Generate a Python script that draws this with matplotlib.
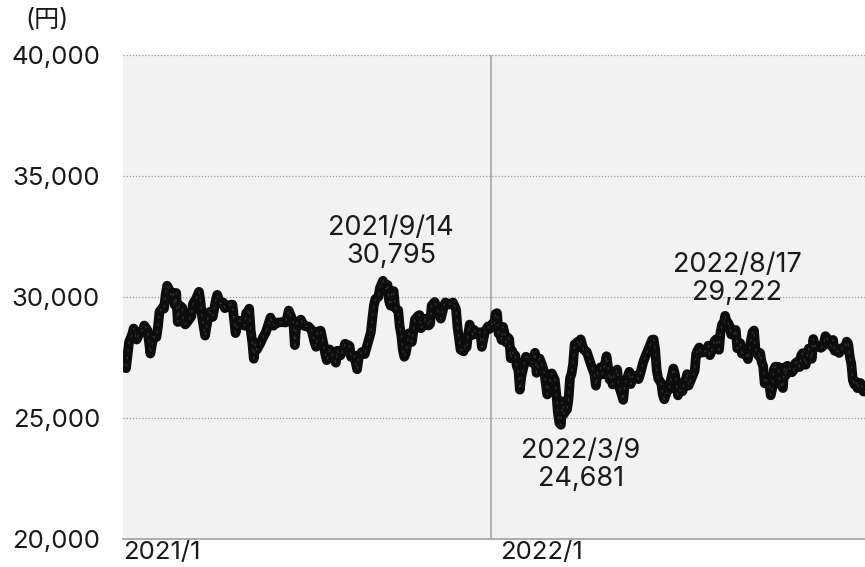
import numpy as np
import matplotlib
matplotlib.use("Agg")
import matplotlib.pyplot as plt
import matplotlib.transforms as mtransforms

plt.rcParams['font.family'] = ['Inter', 'Noto Sans CJK JP', 'DejaVu Sans']

# Tokyo exchange closed days (weekdays) used for trading-day positions
holidays = ["2021-01-01", "2021-01-11", "2021-02-11", "2021-02-23", "2021-04-29",
            "2021-05-03", "2021-05-04", "2021-05-05", "2021-07-22", "2021-07-23",
            "2021-08-09", "2021-09-20", "2021-09-23", "2021-11-03", "2021-11-23",
            "2021-12-31", "2022-01-03", "2022-01-10", "2022-02-11", "2022-02-23",
            "2022-03-21", "2022-04-29", "2022-05-03", "2022-05-04", "2022-05-05",
            "2022-07-18", "2022-08-11", "2022-09-19", "2022-09-23", "2022-10-10",
            "2022-11-03", "2022-11-23"]

dates_2021 = ["01-04","01-06","01-08","01-13","01-14","01-18","01-20","01-22","01-25","01-27",
              "01-28","01-29","02-02","02-04","02-05","02-08","02-10","02-12","02-15","02-16",
              "02-18","02-19","02-22","02-24","02-25","02-26","03-01","03-03","03-04","03-05",
              "03-09","03-11","03-12","03-16","03-18","03-19","03-22","03-24","03-26","03-29",
              "03-31","04-02","04-05","04-07","04-09","04-12","04-14","04-16","04-19","04-20",
              "04-21","04-23","04-27","04-30","05-06","05-07","05-10","05-11","05-12","05-13",
              "05-14","05-17","05-19","05-21","05-25","05-28","06-01","06-03","06-04","06-08",
              "06-11","06-14","06-15","06-18","06-21","06-22","06-25","06-29","06-30","07-02",
              "07-06","07-08","07-09","07-12","07-14","07-16","07-19","07-20","07-21","07-26",
              "07-28","07-30","08-02","08-04","08-06","08-10","08-13","08-16","08-18","08-20",
              "08-23","08-25","08-27","08-31","09-02","09-03","09-06","09-07","09-09","09-10",
              "09-14","09-15","09-16","09-17","09-21","09-22","09-24","09-27","09-28","09-30",
              "10-01","10-04","10-05","10-06","10-07","10-08","10-11","10-13","10-15","10-19",
              "10-20","10-21","10-22","10-26","10-27","10-28","10-29","11-01","11-04","11-05",
              "11-09","11-10","11-12","11-15","11-17","11-19","11-22","11-25","11-26","11-29",
              "11-30","12-02","12-03","12-06","12-07","12-08","12-10","12-13","12-15","12-17",
              "12-20","12-22","12-24","12-27","12-29","12-30"]
close_2021 = [27258,27056,28139,28456,28698,28242,28523,28631,28822,28635,
              28197,27663,28362,28341,28779,29388,29562,29520,30084,30467,
              30236,30018,30156,29672,30168,28966,29664,29559,28930,28864,
              29027,29211,29717,29921,30216,29792,29174,28405,29176,29384,
              29178,29854,30089,29730,29768,29538,29620,29683,29685,29100,
              28508,29020,28991,28812,29331,29357,29518,28608,28147,27448,
              28084,27824,28044,28317,28553,29149,28814,28946,28941,28963,
              28948,29161,29441,28964,28010,28884,29066,28812,28791,28783,
              28643,28118,27940,28569,28608,28003,27652,27388,27548,27833,
              27581,27283,27781,27584,27820,28070,27977,27523,27585,27013,
              27494,27725,27641,28089,28543,29128,29659,29916,30008,30381,
              30670,30511,30323,30500,29839,29639,30248,30240,29544,29452,
              28771,28444,27822,27528,27678,28048,28498,28140,29068,29215,
              29255,28708,28804,29106,29098,28820,28892,29647,29794,29611,
              29285,29106,29609,29776,29688,29745,29774,29499,28751,28283,
              27821,27753,28029,27927,28455,28860,28437,28640,28459,28545,
              27937,28562,28782,28676,28906,28791]

dates_2022 = ["01-04","01-05","01-06","01-07","01-11","01-12","01-13","01-14","01-17","01-18",
              "01-19","01-20","01-21","01-24","01-25","01-26","01-27","01-28","01-31","02-02",
              "02-04","02-08","02-10","02-14","02-16","02-18","02-21","02-22","02-24","02-25",
              "02-28","03-01","03-03","03-04","03-07","03-08","03-09","03-10","03-11","03-14",
              "03-15","03-16","03-17","03-18","03-22","03-23","03-25","03-28","03-29","03-30",
              "03-31","04-04","04-06","04-08","04-11","04-12","04-13","04-15","04-18","04-20",
              "04-21","04-22","04-25","04-26","04-27","04-28","05-02","05-06","05-09","05-10",
              "05-12","05-13","05-16","05-18","05-19","05-20","05-24","05-26","05-27","05-31",
              "06-01","06-03","06-06","06-08","06-09","06-10","06-13","06-14","06-16","06-17",
              "06-20","06-22","06-23","06-24","06-28","06-29","06-30","07-01","07-04","07-06",
              "07-07","07-08","07-11","07-12","07-14","07-15","07-19","07-20","07-21","07-22",
              "07-25","07-27","07-29","08-01","08-02","08-03","08-05","08-08","08-10","08-12",
              "08-15","08-16","08-17","08-18","08-19","08-22","08-23","08-25","08-26","08-29",
              "08-31","09-01","09-02","09-06","09-07","09-09","09-12","09-13","09-14","09-16",
              "09-20","09-21","09-22","09-26","09-27","09-29","09-30","10-03","10-04","10-05",
              "10-07","10-11","10-12","10-13","10-14","10-17","10-18","10-20","10-21","10-24",
              "10-25","10-27","10-28","10-31","11-01","11-04","11-07","11-08","11-10","11-11",
              "11-14","11-15","11-17","11-18","11-21","11-22","11-24","11-25","11-28","11-30",
              "12-01","12-02","12-05","12-07","12-09","12-12","12-13","12-14","12-15","12-16",
              "12-19","12-20","12-21","12-22","12-23","12-26","12-27","12-28","12-29","12-30"]
close_2022 = [29301,29332,28487,28479,28222,28765,28489,28124,28334,28257,
              27467,27772,27522,27588,27131,27011,26170,26717,27002,27533,
              27440,27284,27696,26865,27460,27122,26910,26449,25971,26476,
              26527,26844,26577,25985,25221,24790,24717,25690,25162,25307,
              25346,25762,26652,26827,27224,28040,28149,27943,28252,28027,
              27821,27736,27350,26985,26821,26334,26843,27093,26799,27217,
              27553,27105,26590,26700,26386,26847,26818,27003,26319,26167,
              25748,26427,26547,26911,26402,26739,26748,26604,26781,27279,
              27457,27761,27915,28234,28246,27824,26987,26629,26431,25963,
              25771,26149,26171,26491,27049,26804,26393,25935,26153,26107,
              26490,26517,26812,26336,26643,26788,26961,27680,27803,27915,
              27699,27715,27801,27993,27594,27741,28175,28249,27819,28547,
              28871,28868,29222,28942,28930,28794,28452,28479,28641,27878,
              28091,27661,27650,27626,27430,28214,28542,28614,27818,27567,
              27688,27313,27153,26431,26571,26422,25937,26215,26992,27120,
              27116,26401,26397,26237,27090,26775,27156,27006,26890,26974,
              27250,27345,27105,27587,27678,27199,27527,27872,27446,28263,
              27963,27990,27930,27899,27944,28115,28383,28283,28162,27968,
              28226,27777,27820,27686,27901,27842,27954,28156,28051,27527,
              27237,26568,26387,26507,26235,26405,26447,26340,26093,26094]

ann_dates = ["2021-09-14", "2022-03-09", "2022-08-17"]
ann_labels = ["2021/9/14\n30,795", "2022/3/9\n24,681", "2022/8/17\n29,222"]
ann_values = [30795, 24681, 29222]

x_tick_dates = ["2021-01-04", "2022-01-04"]
x_tick_labels = ["2021/1", "2022/1"]
y_ticks = [20000, 25000, 30000, 35000, 40000]

start = np.datetime64("2021-01-04")
hol = np.array(holidays, dtype="datetime64[D]")


def tidx(d):
    return np.busday_count(start, np.datetime64(d), holidays=hol)


dates = ["2021-" + d for d in dates_2021] + ["2022-" + d for d in dates_2022]
closes = close_2021 + close_2022
xs = np.array([tidx(d) for d in dates])
ys = np.array(closes)

fig = plt.figure(figsize=(8.65, 5.67), dpi=100)
ax = fig.add_axes([123 / 865, 1 - 539 / 567, 742 / 865, (539 - 55) / 567])
ax.set_facecolor("#f2f2f2")
ax.set_xlim(0, tidx("2022-12-30"))
ax.set_ylim(20000, 40000)

for yv in y_ticks[1:]:
    ax.axhline(yv, color="#9a9a9a", lw=0.9, ls=(0, (1, 1.5)), zorder=1)
ax.axvline(242, color="#a0a0a0", lw=1.1, zorder=1)

ax.plot(xs, ys, color="#0d0d0d", lw=7, solid_joinstyle="round",
        solid_capstyle="round", zorder=3)
ax.plot(xs, ys, color="#333333", lw=0.9, ls=(0, (2, 4)), zorder=4)

for sp in ["left", "right", "top"]:
    ax.spines[sp].set_visible(False)
ax.spines["bottom"].set_color("#a0a0a0")
ax.spines["bottom"].set_linewidth(1.2)

ax.set_yticks(y_ticks)
ax.set_yticklabels([f"{v:,}" for v in y_ticks], fontsize=18.5, color="#1a1a1a")
ax.tick_params(axis="y", length=0, pad=16.5)
ax.set_xticks([])

trans = mtransforms.blended_transform_factory(ax.transData, fig.transFigure)
for d, lab, off in zip(x_tick_dates, x_tick_labels, [0, 3]):
    ax.text(tidx(d) + off, 1 - 553 / 567, lab, transform=trans, ha="left",
            va="center", fontsize=18.5, color="#1a1a1a")

offsets = [(8, 36), (20, -39), (12, 37)]
for d, lab, v, (dx, dy) in zip(ann_dates, ann_labels, ann_values, offsets):
    ax.annotate(lab, xy=(tidx(d), v), xytext=(dx, dy), textcoords="offset pixels",
                ha="center", va="center", fontsize=19.5, color="#1a1a1a",
                linespacing=1.1, zorder=5)

fig.text(47 / 865, 1 - 20 / 567, "(円)", ha="center", va="center",
         fontsize=18, color="#1a1a1a")

fig.savefig("out.png", dpi=100)
